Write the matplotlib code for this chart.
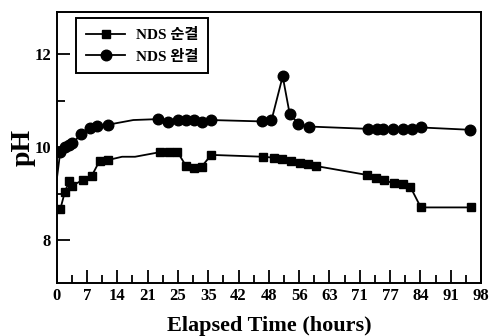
import matplotlib
matplotlib.use("Agg")
import matplotlib.pyplot as plt
from matplotlib.ticker import FixedLocator, MultipleLocator

# NDS 순결 (squares); unmarked points are line vertices without a marker
sq_hours = [0.83, 1.9, 2.9, 3.65, 6.0, 8.1, 9.9, 11.9, 15.1, 18.1, 23.9, 26.0, 27.9,
            29.9, 31.8, 33.5, 35.7, 47.7, 50.1, 52.0, 54.1, 56.2, 58.1, 59.9,
            71.6, 73.8, 75.5, 77.8, 79.9, 81.7, 84.1, 95.8]
sq_ph = [8.67, 9.05, 9.27, 9.18, 9.30, 9.39, 9.71, 9.73, 9.80, 9.80, 9.90, 9.90, 9.90,
         9.60, 9.55, 9.59, 9.84, 9.80, 9.78, 9.75, 9.71, 9.66, 9.64, 9.60,
         9.41, 9.35, 9.30, 9.23, 9.22, 9.15, 8.71, 8.71]
sq_unmarked = [8, 9]

# NDS 완결 (circles)
ci_hours = [0.0, 0.83, 1.9, 2.8, 3.65, 5.7, 7.7, 9.4, 11.9, 17.7, 23.5, 25.8, 28.0,
            29.9, 31.7, 33.6, 35.7, 47.4, 49.6, 52.2, 53.8, 55.8, 58.3,
            71.9, 74.0, 75.3, 77.6, 79.9, 82.1, 84.1, 95.5]
ci_ph = [9.30, 9.91, 10.02, 10.05, 10.09, 10.29, 10.41, 10.46, 10.49, 10.59, 10.61, 10.55, 10.59,
         10.59, 10.59, 10.55, 10.59, 10.56, 10.58, 11.53, 10.73, 10.51, 10.45,
         10.40, 10.40, 10.40, 10.40, 10.40, 10.40, 10.43, 10.38]
ci_unmarked = [0, 9]

xtick_pos = [0, 7, 14, 21, 28, 35, 42, 49, 56, 63, 70, 77, 84, 91, 98]
xtick_labels = ["0", "7", "14", "21", "25", "35", "42", "48", "56", "63", "71", "77", "84", "91", "98"]
ytick_pos = [8, 10, 12]
ytick_labels = ["8", "10", "12"]

serif = ["Liberation Serif", "Noto Sans CJK KR"]

fig = plt.figure(figsize=(4.9, 3.36), dpi=100)
ax = fig.add_axes([0.1157, 0.158, 0.8659, 0.8063])

sq_mark = [i for i in range(len(sq_hours)) if i not in sq_unmarked]
ci_mark = [i for i in range(len(ci_hours)) if i not in ci_unmarked]

ax.plot(sq_hours, sq_ph, color="black", lw=1.3, marker="s", ms=6.0,
        markevery=sq_mark, label="NDS 순결")
ax.plot(ci_hours, ci_ph, color="black", lw=1.3, marker="o", ms=7.6,
        markevery=ci_mark, label="NDS 완결")

ax.set_xlim(0, 98)
ax.set_ylim(7.086, 12.914)

ax.xaxis.set_major_locator(FixedLocator(xtick_pos))
ax.set_xticklabels(xtick_labels)
ax.xaxis.set_minor_locator(MultipleLocator(3.5))
ax.yaxis.set_major_locator(FixedLocator(ytick_pos))
ax.set_yticklabels(ytick_labels)
ax.yaxis.set_minor_locator(MultipleLocator(1))

ax.tick_params(which="both", direction="in", top=False, right=False, width=1.3)
ax.tick_params(which="major", length=9.5, pad=4)
ax.tick_params(which="minor", length=5.5)
for lab in ax.get_xticklabels() + ax.get_yticklabels():
    lab.set_fontfamily(serif)
    lab.set_fontweight("bold")
    lab.set_fontsize(12)

for sp in ax.spines.values():
    sp.set_linewidth(1.4)

ax.set_xlabel("Elapsed Time (hours)", fontfamily=serif, fontweight="bold",
              fontsize=16, labelpad=8)
ax.set_ylabel("pH", fontfamily=serif, fontweight="bold", fontsize=20, labelpad=-1)

leg = ax.legend(loc="upper left", bbox_to_anchor=(0.045, 0.978), borderaxespad=0,
                frameon=True, fancybox=False, edgecolor="black", framealpha=1,
                prop={"family": serif, "weight": "bold", "size": 11},
                handlelength=2.6, borderpad=0.65, labelspacing=0.5, handletextpad=0.7)
leg.get_frame().set_linewidth(1.4)

fig.savefig("out.png", dpi=100)
